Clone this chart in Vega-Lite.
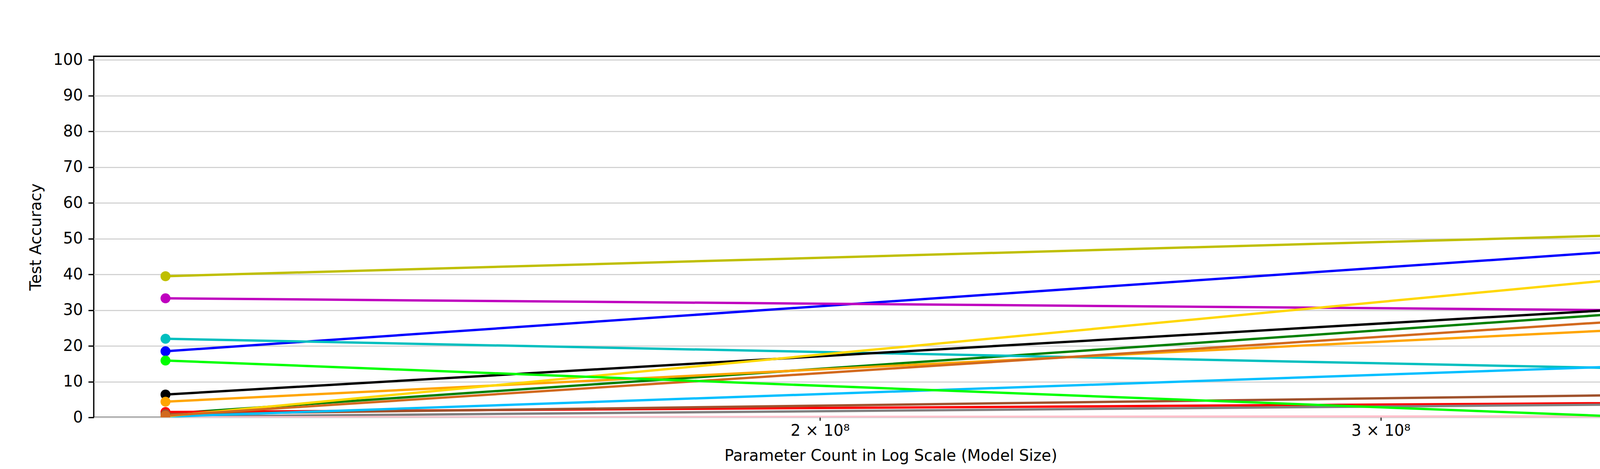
{
  "$schema": "https://vega.github.io/schema/vega-lite/v6.json",
  "width": 4080,
  "height": 924,
  "autosize": {"type": "none"},
  "padding": {"left": 240, "top": 144, "right": 480, "bottom": 132},
  "background": "white",
  "config": {
    "font": "DejaVu Sans",
    "view": {"stroke": "black", "strokeWidth": 3.3},
    "axis": {
      "labelFont": "DejaVu Sans",
      "titleFont": "DejaVu Sans",
      "labelFontSize": 40,
      "titleFontSize": 40,
      "titleFontWeight": "normal",
      "labelColor": "black",
      "titleColor": "black",
      "tickColor": "black",
      "domain": false
    }
  },
  "data": {
    "values": [
      {"test_id": 2, "params": 124600000, "accuracy": 18.5},
      {"test_id": 2, "params": 355500000, "accuracy": 46.4},
      {"test_id": 7, "params": 124600000, "accuracy": 1.0},
      {"test_id": 7, "params": 355500000, "accuracy": 28.9},
      {"test_id": 13, "params": 124600000, "accuracy": 1.5},
      {"test_id": 13, "params": 355500000, "accuracy": 4.0},
      {"test_id": 24, "params": 124600000, "accuracy": 22.0},
      {"test_id": 24, "params": 355500000, "accuracy": 13.8},
      {"test_id": 27, "params": 124600000, "accuracy": 33.3},
      {"test_id": 27, "params": 355500000, "accuracy": 30.0},
      {"test_id": 29, "params": 124600000, "accuracy": 39.5},
      {"test_id": 29, "params": 355500000, "accuracy": 50.9},
      {"test_id": 37, "params": 124600000, "accuracy": 6.4},
      {"test_id": 37, "params": 355500000, "accuracy": 30.1},
      {"test_id": 39, "params": 124600000, "accuracy": 4.4},
      {"test_id": 39, "params": 355500000, "accuracy": 24.4},
      {"test_id": 41, "params": 124600000, "accuracy": 0.9},
      {"test_id": 41, "params": 355500000, "accuracy": 6.2},
      {"test_id": 42, "params": 124600000, "accuracy": 0.2},
      {"test_id": 42, "params": 355500000, "accuracy": 3.6},
      {"test_id": 43, "params": 124600000, "accuracy": 0.0},
      {"test_id": 43, "params": 355500000, "accuracy": 0.3},
      {"test_id": 45, "params": 124600000, "accuracy": 0.2},
      {"test_id": 45, "params": 355500000, "accuracy": 14.2},
      {"test_id": 46, "params": 124600000, "accuracy": 0.3},
      {"test_id": 46, "params": 355500000, "accuracy": 38.5},
      {"test_id": 47, "params": 124600000, "accuracy": 0.5},
      {"test_id": 47, "params": 355500000, "accuracy": 26.8},
      {"test_id": 49, "params": 124600000, "accuracy": 15.9},
      {"test_id": 49, "params": 355500000, "accuracy": 0.3}
    ]
  },
  "encoding": {
    "x": {
      "field": "params",
      "type": "quantitative",
      "scale": {"type": "log", "domain": [118300000, 374500000], "nice": false, "zero": false},
      "axis": {
        "values": [200000000, 300000000],
        "labelExpr": "datum.value < 250000000 ? '2 × 10⁸' : '3 × 10⁸'",
        "grid": false,
        "tickSize": 8,
        "tickWidth": 2.5,
        "labelPadding": 6,
        "title": "Parameter Count in Log Scale (Model Size)",
        "titlePadding": 24
      }
    },
    "y": {
      "field": "accuracy",
      "type": "quantitative",
      "scale": {"domain": [0, 101], "nice": false},
      "axis": {
        "values": [0, 10, 20, 30, 40, 50, 60, 70, 80, 90, 100],
        "grid": true,
        "gridColor": "#d3d3d3",
        "gridWidth": 3,
        "tickSize": 14,
        "tickWidth": 3.3,
        "labelPadding": 14,
        "title": "Test Accuracy",
        "titlePadding": 23
      }
    },
    "color": {
      "field": "test_id",
      "type": "nominal",
      "scale": {
        "domain": [2, 7, 13, 24, 27, 29, 37, 39, 41, 42, 43, 45, 46, 47, 49],
        "range": ["#0000ff", "#008000", "#ff0000", "#00bfbf", "#bf00bf", "#bfbf00", "#000000", "#ffa500", "#a0522d", "#808080", "#ffc0cb", "#00bfff", "#ffd700", "#d2691e", "#00ff00"]
      },
      "legend": {
        "title": "Test ID",
        "orient": "none",
        "legendX": 4100,
        "legendY": 16,
        "columns": 2,
        "titleAnchor": "middle",
        "titleFontSize": 40,
        "titleFontWeight": "normal",
        "titleFont": "DejaVu Sans",
        "titleColor": "black",
        "titlePadding": 0,
        "labelFontSize": 40,
        "labelFont": "DejaVu Sans",
        "labelColor": "black",
        "symbolType": "M-1.854,0L1.854,0M0.575,0A0.575,0.575,0,1,1,-0.575,0A0.575,0.575,0,1,1,0.575,0Z",
        "symbolSize": 2304,
        "symbolStrokeWidth": 6,
        "symbolOpacity": 1,
        "symbolOffset": 20.5,
        "labelOffset": 74,
        "columnPadding": 60,
        "rowPadding": 0,
        "padding": 14,
        "strokeColor": "#d6d6d6",
        "cornerRadius": 8,
        "fillColor": "white",
        "encode": {
          "legend": {
            "update": {"strokeWidth": {"value": 3}}
          },
          "symbols": {
            "update": {
              "fill": {"scale": "color", "field": "value"},
              "stroke": {"scale": "color", "field": "value"},
              "opacity": {"value": 1}
            }
          }
        }
      }
    }
  },
  "layer": [
    {"mark": {"type": "line", "strokeWidth": 6, "clip": true}},
    {"mark": {"type": "point", "filled": true, "size": 650, "opacity": 1, "clip": true}}
  ]
}
